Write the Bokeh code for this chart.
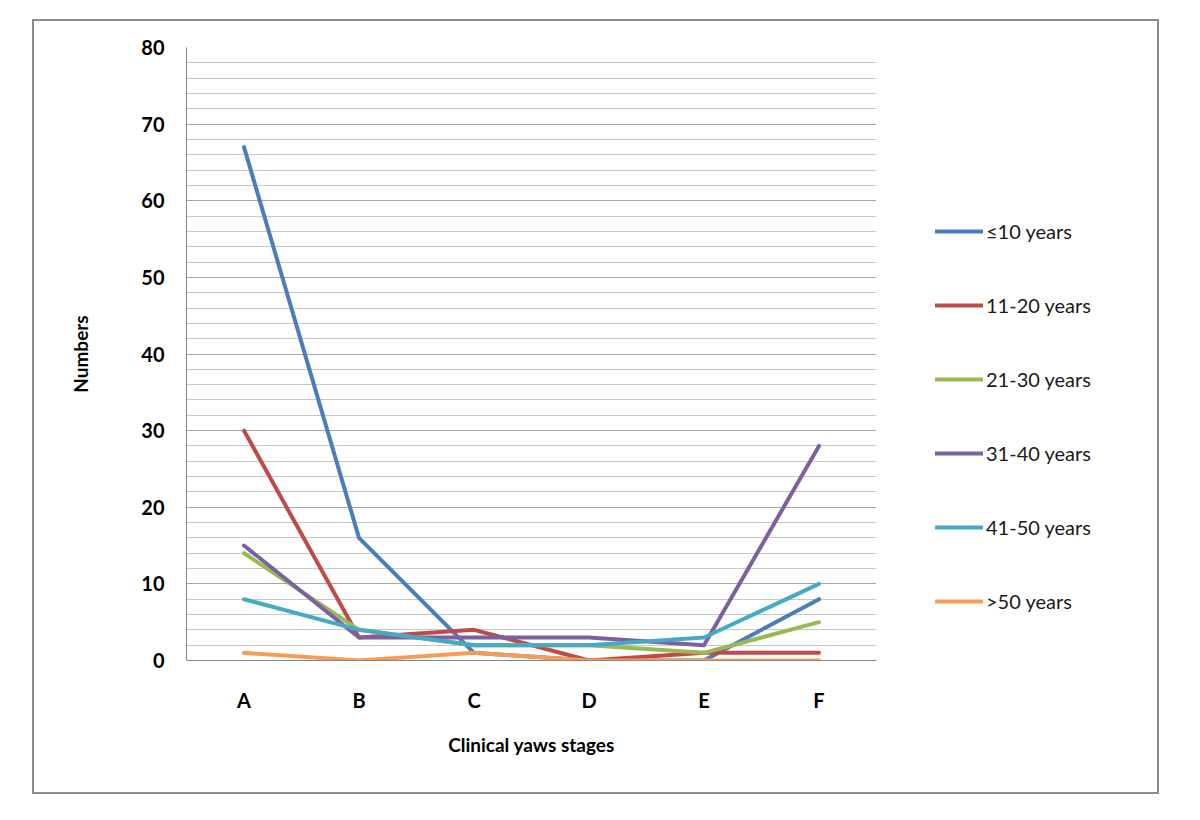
from bokeh.plotting import figure
from bokeh.models import FactorRange, Range1d, Legend, LegendItem, SingleIntervalTicker
from bokeh.embed import file_html
from bokeh.resources import INLINE

stages = ["A", "B", "C", "D", "E", "F"]
series_names = ["\u226410 years", "11-20 years", "21-30 years", "31-40 years", "41-50 years", ">50 years"]
le10 = [67, 16, 1, 0, 0, 8]
y11_20 = [30, 3, 4, 0, 1, 1]
y21_30 = [14, 4, 2, 2, 1, 5]
y31_40 = [15, 3, 3, 3, 2, 28]
y41_50 = [8, 4, 2, 2, 3, 10]
gt50 = [1, 0, 1, 0, 0, 0]
series_values = [le10, y11_20, y21_30, y31_40, y41_50, gt50]
colors = ["#4A7EBB", "#BE4B48", "#98B954", "#7D60A0", "#46AAC5", "#F59D56"]

FONT = "Lato"

p = figure(x_range=FactorRange(*stages, range_padding=0), y_range=Range1d(0, 80),
           width=1127, height=771,
           frame_width=690, frame_height=613,
           min_border_left=152, min_border_right=285, min_border_top=26, min_border_bottom=132,
           output_backend="svg", toolbar_location=None, background_fill_color="white",
           border_fill_color=None, border_fill_alpha=0)
p.outline_line_color = None
p.styles = {"margin-left": "32px", "margin-top": "19px", "border": "2px solid #8c8c8c",
            "width": "1127px", "overflow": "hidden", "background-color": "white"}

# grid
p.ygrid.ticker = SingleIntervalTicker(interval=10)
p.ygrid.grid_line_color = "#a6a6a6"
p.ygrid.grid_line_width = 1
p.ygrid.minor_grid_line_color = "#c8c8c8"
p.ygrid.minor_grid_line_width = 1
p.xgrid.grid_line_color = None

# y axis
p.yaxis.ticker = SingleIntervalTicker(interval=10, num_minor_ticks=5)
p.yaxis.axis_line_color = "#868686"
p.yaxis.major_tick_line_color = None
p.yaxis.minor_tick_line_color = None
p.yaxis.major_tick_out = 0
p.yaxis.minor_tick_out = 0
p.yaxis.major_label_standoff = 22
p.yaxis.major_label_text_font = FONT
p.yaxis.major_label_text_font_style = "bold"
p.yaxis.major_label_text_font_size = "20px"
p.yaxis.major_label_text_color = "#000000"
p.yaxis.axis_label = "Numbers"
p.yaxis.axis_label_text_font = FONT
p.yaxis.axis_label_text_font_style = "bold"
p.yaxis.axis_label_text_font_size = "19px"
p.yaxis.axis_label_text_color = "#000000"
p.yaxis.axis_label_standoff = 46

# x axis
p.xaxis.axis_line_color = "#868686"
p.xaxis.major_tick_line_color = None
p.xaxis.major_tick_out = 0
p.xaxis.major_label_standoff = 27
p.xaxis.major_label_text_font = FONT
p.xaxis.major_label_text_font_style = "bold"
p.xaxis.major_label_text_font_size = "20px"
p.xaxis.major_label_text_color = "#000000"
p.xaxis.axis_label = "Clinical yaws stages"
p.xaxis.axis_label_text_font = FONT
p.xaxis.axis_label_text_font_style = "bold"
p.xaxis.axis_label_text_font_size = "19px"
p.xaxis.axis_label_text_color = "#000000"
p.xaxis.axis_label_standoff = 18

items = []
for name, vals, col in zip(series_names, series_values, colors):
    r = p.line(stages, vals, line_color=col, line_width=4, line_join="round", line_cap="round")
    items.append(LegendItem(label=name, renderers=[r]))

legend = Legend(items=items, location=(59, 47), orientation="vertical",
                glyph_width=48, glyph_height=20, label_height=20, spacing=50,
                label_standoff=3, padding=0, margin=0,
                border_line_color=None, background_fill_alpha=0,
                label_text_font=FONT, label_text_font_size="20px", label_text_color="#1a1a1a")
p.add_layout(legend, "right")

open("out.html", "w").write(file_html(p, INLINE))
